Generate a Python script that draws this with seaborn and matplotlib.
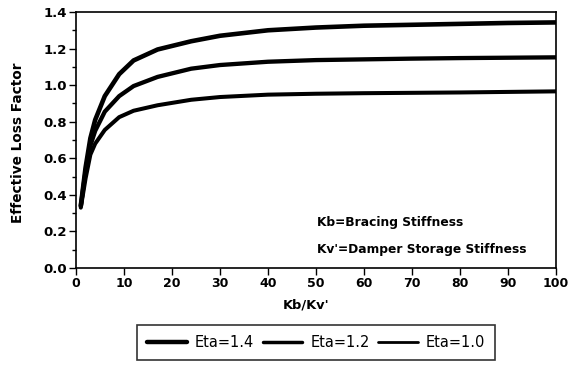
import matplotlib
matplotlib.use("Agg")
import matplotlib.pyplot as plt
from matplotlib.ticker import MultipleLocator
import seaborn as sns
import pandas as pd

# ---- data ----
kb_kv = [1, 2, 3, 4, 6, 9, 12, 17, 24, 30, 40, 50, 60, 70, 80, 90, 100]
eta_14 = [0.34, 0.55, 0.71, 0.81, 0.94, 1.06, 1.135, 1.195, 1.24, 1.27, 1.30,
          1.315, 1.325, 1.33, 1.335, 1.34, 1.343]
eta_12 = [0.34, 0.53, 0.67, 0.75, 0.855, 0.94, 0.995, 1.045, 1.09, 1.11, 1.128,
          1.137, 1.141, 1.145, 1.148, 1.15, 1.152]
eta_10 = [0.33, 0.49, 0.62, 0.68, 0.755, 0.825, 0.86, 0.89, 0.92, 0.935, 0.948,
          0.953, 0.956, 0.958, 0.96, 0.963, 0.966]
series_names = ["Eta=1.4", "Eta=1.2", "Eta=1.0"]
x_ticks = [0, 10, 20, 30, 40, 50, 60, 70, 80, 90, 100]
y_ticks = [0.0, 0.2, 0.4, 0.6, 0.8, 1.0, 1.2, 1.4]

sns.set_style("ticks")
plt.rcParams["font.family"] = ["DejaVu Sans"]
plt.rcParams["text.color"] = "black"
plt.rcParams["axes.labelcolor"] = "black"
plt.rcParams["xtick.color"] = "black"
plt.rcParams["ytick.color"] = "black"

df = pd.concat([
    pd.DataFrame({"x": kb_kv, "y": vals, "series": name})
    for name, vals in zip(series_names, [eta_14, eta_12, eta_10])
])

fig = plt.figure(figsize=(5.73, 3.68), dpi=100)
ax = fig.add_axes([0.1326, 0.2717, 0.8377, 0.6957])

widths = {"Eta=1.4": 3.3, "Eta=1.2": 3.1, "Eta=1.0": 2.9}
for name in series_names:
    sns.lineplot(data=df[df["series"] == name], x="x", y="y", ax=ax,
                 color="black", linewidth=widths[name], label=name,
                 estimator=None, sort=True)

ax.set_xlim(0, 100)
ax.set_ylim(0, 1.4)
ax.set_xticks(x_ticks)
ax.set_yticks(y_ticks)
ax.set_xticklabels([str(v) for v in x_ticks], fontweight="bold", fontsize=9)
ax.set_yticklabels([f"{v:.1f}" for v in y_ticks], fontweight="bold", fontsize=9.5)
ax.yaxis.set_minor_locator(MultipleLocator(0.1))
ax.tick_params(axis="both", which="major", length=5, width=1, color="black", pad=1.5)
ax.tick_params(axis="y", which="minor", length=3, width=1, color="black")
for sp in ax.spines.values():
    sp.set_visible(True)
    sp.set_color("black")
    sp.set_linewidth(1.2)

ax.set_xlabel("Kb/Kv'", fontsize=9.4, fontweight="bold")
ax.xaxis.set_label_coords(0.48, -0.12)
ax.set_ylabel("Effective Loss Factor", fontsize=9.8, fontweight="bold")
ax.yaxis.set_label_coords(-0.106, 0.49)

ax.text(50.2, 0.25, "Kb=Bracing Stiffness", fontsize=8.8, fontweight="bold",
        va="center", ha="left")
ax.text(50.2, 0.10, "Kv'=Damper Storage Stiffness", fontsize=8.8, fontweight="bold",
        va="center", ha="left")

handles, labels = ax.get_legend_handles_labels()
ax.get_legend().remove()
leg = fig.legend(handles, labels, loc="center", bbox_to_anchor=(0.552, 0.069),
                 ncol=3, frameon=True, fancybox=False, fontsize=10.5,
                 handlelength=2.7, columnspacing=0.6, handletextpad=0.55,
                 borderpad=0.7, borderaxespad=0, edgecolor="black")
leg.get_frame().set_linewidth(1.2)
for line, lw in zip(leg.get_lines(), [3.2, 2.5, 2.0]):
    line.set_linewidth(lw)

fig.savefig("out.png", dpi=100)
